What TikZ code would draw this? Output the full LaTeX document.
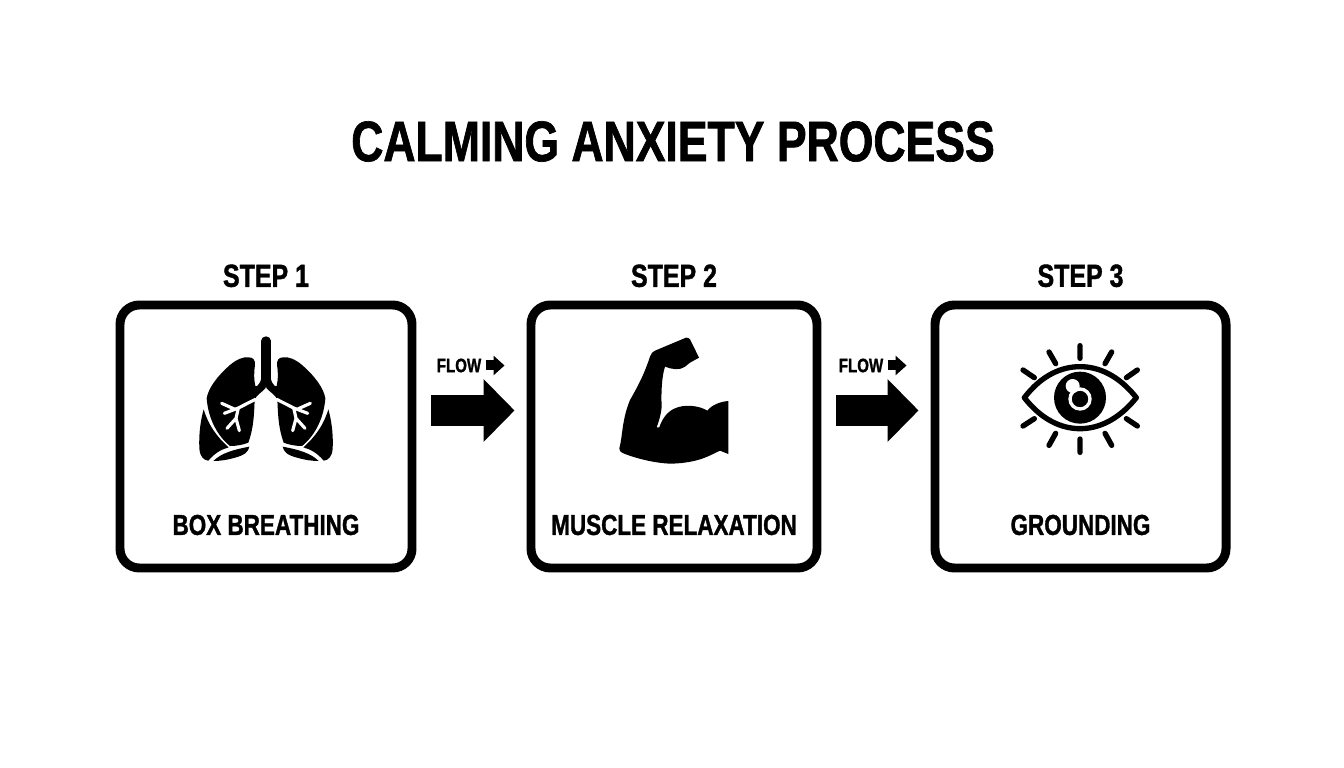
\documentclass[tikz,border=0pt]{standalone}
\usepackage{fontspec}
\setsansfont{Liberation Sans}[FakeStretch=0.78,BoldFeatures={FakeBold=1.2}]
\usetikzlibrary{
  positioning,
  arrows.meta,
  calc
}

\begin{document}
\begin{tikzpicture}[
      font=\sffamily\bfseries,
      stepbox/.style={
        rectangle,
        rounded corners=11pt,
        draw=black,
        line width=5.1pt,
        fill=white,
        minimum height=5.26cm
      },
      title/.style={
        font=\sffamily\bfseries\fontsize{32.5}{36}\selectfont
      },
      steplabel/.style={
        font=\sffamily\bfseries\fontsize{18.2}{22}\selectfont,
        inner sep=0pt
      },
      boxlabel/.style={
        font=\sffamily\bfseries\fontsize{16.4}{20}\selectfont,
        inner sep=0pt
      },
      flowlabel/.style={
        font=\sffamily\bfseries\fontsize{11}{14}\selectfont,
        inner sep=0pt
      },
      flow/.style={
        -{Triangle[length=0.62cm,width=1.22cm]},
        line width=0.62cm
      },
      smallflow/.style={
        -{Triangle[length=0.22cm,width=0.38cm]},
        line width=0.2cm
      },
      icon/.style={
        x=0.006667cm,
        y=-0.006667cm
      },
      lunghalf/.pic={
        \fill (205,112) .. controls (218,112) and (226,118) .. (225,135)
          .. controls (221,160) and (222,180) .. (226,198)
          -- (258,203) .. controls (245,218) and (228,225) .. (224,240)
          .. controls (222,280) and (222,320) .. (205,368)
          .. controls (190,374) and (170,378) .. (150,378)
          .. controls (115,350) and (85,300) .. (80,235)
          .. controls (85,205) and (110,170) .. (150,135)
          .. controls (170,118) and (190,110) .. (205,112) -- cycle;
        \fill (71,268) .. controls (85,315) and (110,350) .. (146,382)
          .. controls (125,388) and (105,398) .. (85,422)
          .. controls (70,420) and (60,410) .. (58,385)
          .. controls (56,340) and (62,300) .. (71,268) -- cycle;
        \fill (100,423) .. controls (125,398) and (165,388) .. (208,380)
          .. controls (205,395) and (195,405) .. (165,413)
          .. controls (140,420) and (120,423) .. (100,423) -- cycle;
        \draw[white,line width=1.8pt,line cap=round]
          (226,238) -- (175,264) -- (133,280)
          (165,268) -- (125,250)
          (175,264) -- (168,295) -- (141,325)
          (168,295) -- (178,332);
      }
    ]

    \useasboundingbox (0,0) rectangle (26.88,15.36);

    \node[title] (heading) at (13.46,12.53) {CALMING ANXIETY PROCESS};

    % Boxes
    \node[stepbox, minimum width=5.84cm] (box1) at (5.32,6.63) {};
    \node[stepbox, minimum width=5.72cm] (box2) at (13.48,6.63) {};
    \node[stepbox, minimum width=5.82cm] (box3) at (21.61,6.63) {};

    \node[steplabel, above=0.26cm of box1] (step1) {STEP 1};
    \node[steplabel, above=0.26cm of box2] (step2) {STEP 2};
    \node[steplabel, above=0.26cm of box3] (step3) {STEP 3};

    \node[boxlabel] (label1) at ($(box1.center)+(0,-1.77)$) {BOX BREATHING};
    \node[boxlabel] (label2) at ($(box2.center)+(0,-1.77)$) {MUSCLE RELAXATION};
    \node[boxlabel] (label3) at ($(box3.center)+(0,-1.77)$) {GROUNDING};

    % Routing
    \coordinate (port1) at ($(box1.east)+(0.30,0.52)$);
    \coordinate (port2) at ($(box2.west)+(-0.24,0.52)$);
    \coordinate (port3) at ($(box2.east)+(0.30,0.52)$);
    \coordinate (port4) at ($(box3.west)+(-0.24,0.52)$);

    \draw[flow] (port1) -- (port2);
    \draw[flow] (port3) -- (port4);

    \node[flowlabel] (flow1) at (9.18,8.05) {FLOW};
    \node[flowlabel] (flow2) at (17.22,8.05) {FLOW};

    \coordinate (tip1) at ($(flow1.east)+(0.46,0)$);
    \coordinate (tip2) at ($(flow2.east)+(0.46,0)$);

    \draw[smallflow] ($(flow1.east)+(0.08,0)$) -- (tip1);
    \draw[smallflow] ($(flow2.east)+(0.08,0)$) -- (tip2);

    % Lungs
    \begin{scope}[shift={(3.6,8.96)},icon]
      \draw[line width=28*0.006667cm,line cap=round] (258,63) -- (258,175);
      \fill (244,170) .. controls (244,185) and (236,195) .. (224,205)
        -- (258,203) -- (292,205)
        .. controls (280,195) and (272,185) .. (272,170) -- cycle;
      \pic {lunghalf};
      \pic[xscale=-1,shift={(-516,0)}] {lunghalf};
    \end{scope}

    % Arm
    \begin{scope}[shift={(12,8.96)},icon]
      \fill (258,53) .. controls (264,53) and (268,55) .. (270,58)
        -- (297,113) -- (270,128) -- (255,140)
        .. controls (240,152) and (215,148) .. (195,140)
        .. controls (185,170) and (183,220) .. (185,260)
        .. controls (183,285) and (176,305) .. (170,322) -- (178,322)
        .. controls (185,300) and (200,275) .. (225,265)
        .. controls (250,253) and (295,255) .. (322,272)
        .. controls (335,255) and (360,245) .. (385,243)
        -- (385,402) -- (360,392)
        .. controls (330,405) and (300,428) .. (215,431)
        .. controls (160,430) and (100,412) .. (70,400)
        .. controls (60,395) and (57,390) .. (58,385)
        .. controls (68,350) and (65,300) .. (90,240)
        .. controls (110,205) and (130,170) .. (150,110)
        .. controls (153,100) and (158,95) .. (165,92) -- cycle;
    \end{scope}

    % Eye
    \begin{scope}[shift={(20.1,8.76)},icon]
      \draw[line width=16*0.006667cm,line join=round]
        (58,203) .. controls (110,135) and (170,110) .. (225,110)
        .. controls (280,110) and (340,135) .. (394,203)
        .. controls (340,270) and (280,296) .. (225,296)
        .. controls (170,296) and (110,270) .. (58,203) -- cycle;
      \fill (225,203) circle[radius=78];
      \draw[white,line width=10*0.006667cm] (225,207) circle[radius=30];
      \fill[white] (203,168) circle[radius=21];
      \draw[line width=16*0.006667cm,line cap=round]
        (225,47) -- (225,85)
        (132,66) -- (152,101)
        (320,66) -- (300,101)
        (54,120) -- (88,143)
        (397,120) -- (364,143)
        (54,288) -- (88,266)
        (397,288) -- (364,266)
        (152,310) -- (132,346)
        (300,310) -- (320,346)
        (225,327) -- (225,367);
    \end{scope}

    \end{tikzpicture}
\end{document}
